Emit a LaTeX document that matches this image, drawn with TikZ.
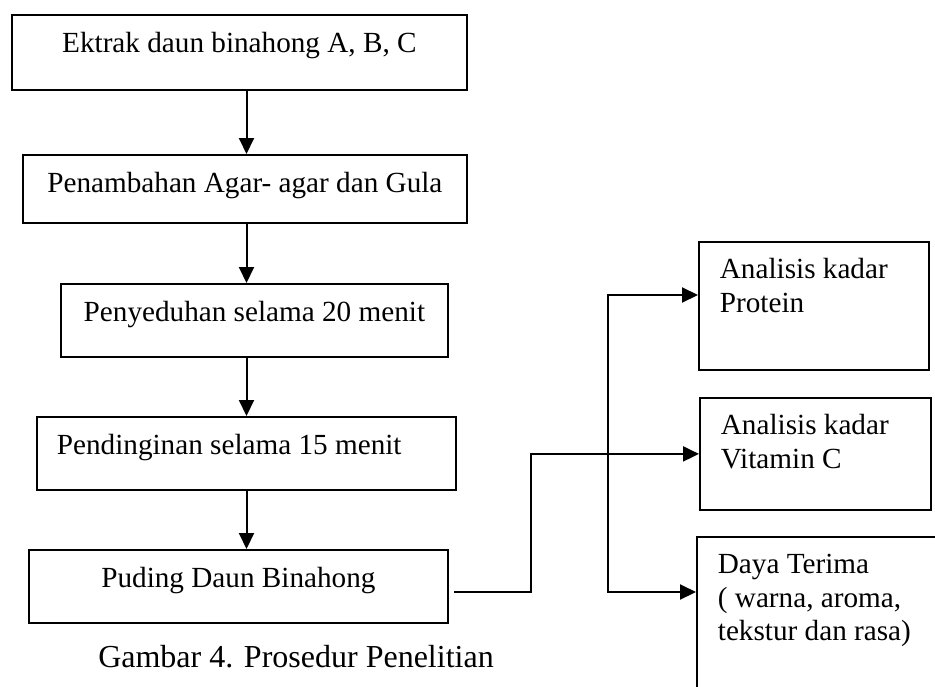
\documentclass[tikz,border=0pt]{standalone}
\usepackage{fontspec}
\setmainfont{Liberation Serif}
\usetikzlibrary{arrows.meta}

\tikzset{
  stepbox/.style={draw, line width=0.9pt, anchor=north west, inner xsep=0pt, inner ysep=0pt,
    text height=19pt, font=\fontsize{14.6}{16.6}\selectfont},
  resultbox/.style={draw, line width=0.9pt, anchor=north west, align=flush left, inner xsep=10.5pt,
    inner ysep=0pt, text height=18.5pt, font=\fontsize{14.6}{16.6}\selectfont},
  link/.style={line width=1pt},
  tip/.style={-{Triangle[length=8pt,width=7.5pt]}}
}

\begin{document}
\begin{tikzpicture}[x=0.5pt, y=-0.5pt]
    % page frame: 935 x 686 px, y grows downwards
    \useasboundingbox (0,0) rectangle (935,686);
    \clip (0,0) rectangle (935,686);

    % Process steps (left column)
    \node[stepbox, minimum width=227.5pt, text depth=18.5pt] (ekstrak) at (11,14) {Ektrak daun binahong A, B, C};
    \node[stepbox, minimum width=222pt, text depth=15pt] (agar) at (22,154) {Penambahan Agar- agar dan Gula};
    \node[stepbox, minimum width=193.5pt, text depth=17.5pt] (seduh) at (60,283) {Penyeduhan selama 20 menit};
    \node[stepbox, align=flush left, inner xsep=10pt, text width=189.5pt, text depth=17.5pt] (dingin) at (36,416) {Pendinginan selama 15 menit};
    \node[stepbox, minimum width=209.5pt, text depth=17.5pt] (puding) at (28,549) {Puding Daun Binahong};

    % Caption
    \node[anchor=base, font=\fontsize{16}{19}\selectfont] (caption) at (296,667) {Gambar 4. Prosedur Penelitian};

    % Analyses (right column)
    \node[resultbox, text width=94pt, text depth=45.5pt] (protein) at (698,241) {Analisis kadar\\Protein};
    \node[resultbox, text width=94.5pt, text depth=37.5pt] (vitc) at (699,397) {Analisis kadar\\Vitamin C};
    \node[resultbox, text width=101.5pt, text depth=61.5pt] (terima) at (696,536) {Daya Terima\\( warna, aroma,\\tekstur dan rasa)};

    % Vertical flow
    \coordinate (spine) at (246.5,0);
    \draw[link, tip] (ekstrak.south -| spine) -- (agar.north -| spine);
    \draw[link, tip] (agar.south -| spine) -- (seduh.north -| spine);
    \draw[link, tip] (seduh.south -| spine) -- (dingin.north -| spine);
    \draw[link, tip] (dingin.south -| spine) -- (puding.north -| spine);

    % Branch to the analyses
    \coordinate (out) at (454,592);
    \coordinate (bend) at (531,0);
    \coordinate (forktop) at (608,295);
    \coordinate (forkbot) at (608,592);
    \draw[link, tip] (out) -| (bend |- vitc.west) -- (vitc.west);
    \draw[link, {Triangle[length=8pt,width=7.5pt]}-{Triangle[length=8pt,width=7.5pt]}]
      (forktop -| protein.west) -- (forktop) -- (forkbot) -- (forkbot -| terima.west);
\end{tikzpicture}
\end{document}
